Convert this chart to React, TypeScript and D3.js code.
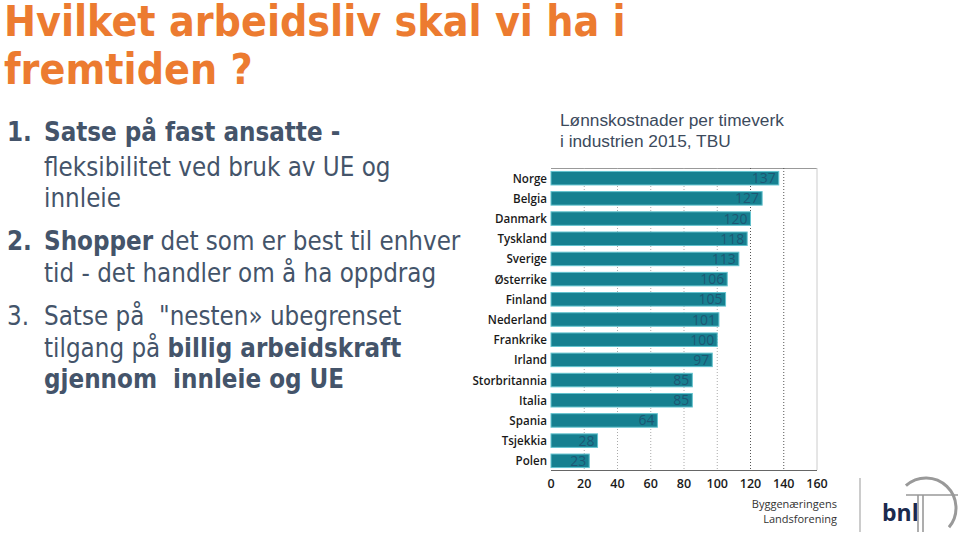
import React from "react";
import * as d3 from "d3";

const countries = ["Norge","Belgia","Danmark","Tyskland","Sverige","Østerrike","Finland","Nederland","Frankrike","Irland","Storbritannia","Italia","Spania","Tsjekkia","Polen"];
const values = [137,127,120,118,113,106,105,101,100,97,85,85,64,28,23];
const ticks = [0,20,40,60,80,100,120,140,160];

const titleLines = ["Hvilket arbeidsliv skal vi ha i", "fremtiden ?"];
const chartTitle = ["Lønnskostnader per timeverk", "i industrien 2015, TBU"];

function arcPath(cx: number, cy: number, r: number, a0: number, a1: number) {
  const p = d3.path();
  p.arc(cx, cy, r, (a0 * Math.PI) / 180, (a1 * Math.PI) / 180);
  return p.toString();
}

export default function App() {
  const W = 960, H = 536;
  const x = d3.scaleLinear().domain([0, 160]).range([551, 817]);
  const y = d3.scaleBand<string>().domain(countries).range([168, 471]).paddingInner(0.33).paddingOuter(0.17);
  const textColor = "#44546a";
  const bodyFont = "'DejaVu Sans Condensed', 'DejaVu Sans', Verdana, sans-serif";
  const fs = 25.7;
  return (
    <svg width={W} height={H} style={{ position: "absolute", left: 0, top: 0, background: "#fff" }}>
      <g fontFamily={bodyFont} fontWeight="bold" fill="#ec7b30" fontSize={42.5}>
        <text x={4} y={36}>{titleLines[0]}</text>
        <text x={4} y={84}>{titleLines[1]}</text>
      </g>
      <g fontFamily={bodyFont} fontSize={fs} fill={textColor}>
        <text x={7} y={141} fontWeight="bold">1.</text>
        <text x={44} y={141} fontWeight="bold">Satse på fast ansatte -</text>
        <text x={44} y={176}>fleksibilitet ved bruk av UE og</text>
        <text x={44} y={207}>innleie</text>
        <text x={7} y={250} fontWeight="bold">2.</text>
        <text x={44} y={250}><tspan fontWeight="bold">Shopper</tspan> det som er best til enhver</text>
        <text x={44} y={282}>tid - det handler om å ha oppdrag</text>
        <text x={7} y={325}>3.</text>
        <text x={44} y={325}>{"Satse på \u00a0\"nesten» ubegrenset"}</text>
        <text x={44} y={357}>tilgang på <tspan fontWeight="bold">billig arbeidskraft</tspan></text>
        <text x={44} y={388} fontWeight="bold">{"gjennom \u00a0innleie og UE"}</text>
      </g>
      <g fontFamily="'Liberation Sans', Arial, sans-serif" fontSize={17.3} fill="#3c4a5c">
        <text x={560} y={126}>{chartTitle[0]}</text>
        <text x={560} y={147}>{chartTitle[1]}</text>
      </g>
      {/* frame */}
      <line x1={x(0)} x2={x(160)} y1={168.5} y2={168.5} stroke="#999" strokeWidth={1} />
      <line x1={x(160)} x2={x(160)} y1={168} y2={470} stroke="#ccc" strokeWidth={1} />
      {ticks.filter(t => t > 0 && t < 160).map(t => (
        <line key={t} x1={x(t)} x2={x(t)} y1={168} y2={470}
          stroke={t >= 120 ? "#555" : "#aaa"} strokeWidth={1} strokeDasharray="1,2" />
      ))}
      {countries.map((c, i) => (
        <g key={c}>
          <rect x={x(0)} y={y(c)} width={x(values[i]) - x(0)} height={y.bandwidth()}
            fill="#168090" stroke="#62c3cf" strokeWidth={1} />
          <text x={x(values[i]) - 3} y={(y(c) as number) + y.bandwidth() / 2 + 5}
            textAnchor="end" fontFamily="'Open Sans', sans-serif" fontSize={14}
            fill="#1f4f6e" fillOpacity={0.85}>{values[i]}</text>
          <text x={547} y={(y(c) as number) + y.bandwidth() / 2 + 4.5}
            textAnchor="end" fontFamily="'Open Sans', sans-serif" fontWeight={600} fontSize={11.6}
            fill="#1a1a1a">{c}</text>
        </g>
      ))}
      <line x1={x(0)} x2={x(160)} y1={470.5} y2={470.5} stroke="#666" strokeWidth={1} />
      {ticks.map(t => (
        <text key={t} x={x(t)} y={488} textAnchor="middle" fontFamily="'Open Sans', sans-serif"
          fontWeight={600} fontSize={12.5} fill="#1a1a1a">{t}</text>
      ))}
      {/* logo */}
      <g fontFamily="'Open Sans', sans-serif" fontSize={11} fill="#333" textAnchor="end">
        <text x={837} y={508}>Byggenæringens</text>
        <text x={837} y={523}>Landsforening</text>
      </g>
      <line x1={860} x2={860} y1={478} y2={532} stroke="#aaa" strokeWidth={1.2} />
      <text x={882} y={521} fontFamily="'Open Sans', sans-serif" fontWeight={700} fontSize={23} fill="#1b2a4e">bnl</text>
      <line x1={918} x2={918} y1={495} y2={532} stroke="#999" strokeWidth={1.6} />
      <line x1={923} x2={923} y1={495} y2={532} stroke="#999" strokeWidth={1.6} />
      <line x1={906} x2={958} y1={495} y2={495} stroke="#999" strokeWidth={1.6} />
      <path d={arcPath(926, 508, 30, 228, 400)} fill="none" stroke="#999" strokeWidth={3} />
    </svg>
  );
}
